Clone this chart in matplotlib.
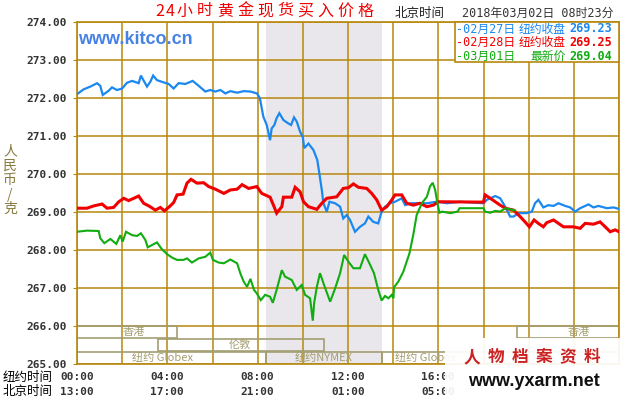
import matplotlib
matplotlib.use("Agg")
import matplotlib.pyplot as plt
from matplotlib.patches import Rectangle
from matplotlib.transforms import blended_transform_factory

plt.rcParams['font.family'] = ['DejaVu Sans', 'Noto Sans CJK SC']

# 纽约时间(小时), 价格
blue = [(0, 272.10), (0.3, 272.23), (0.59, 272.30), (0.89, 272.39), (1.03, 272.32), (1.14, 272.08),
        (1.40, 272.19), (1.55, 272.28), (1.77, 272.21), (2.0, 272.25), (2.21, 272.40), (2.44, 272.45),
        (2.73, 272.39), (2.83, 272.59), (2.95, 272.46), (3.10, 272.30), (3.25, 272.43), (3.37, 272.59),
        (3.54, 272.47), (3.84, 272.41), (4.06, 272.37), (4.28, 272.25), (4.50, 272.39), (4.80, 272.37),
        (5.12, 272.45), (5.39, 272.32), (5.68, 272.17), (5.90, 272.21), (6.13, 272.17), (6.35, 272.21),
        (6.57, 272.12), (6.79, 272.18), (7.09, 272.14), (7.38, 272.18), (7.68, 272.17), (7.97, 272.12),
        (8.10, 271.99), (8.25, 271.51), (8.40, 271.29), (8.55, 270.89), (8.62, 271.20), (8.74, 271.29),
        (8.84, 271.47), (8.96, 271.60), (9.14, 271.42), (9.36, 271.33), (9.48, 271.29), (9.61, 271.49),
        (9.73, 271.38), (9.88, 271.11), (10.0, 270.97), (10.06, 270.68), (10.25, 270.80), (10.47, 270.63),
        (10.64, 270.37), (10.73, 270.02), (10.84, 269.58), (10.91, 269.23), (11.06, 269.01), (11.18, 269.27),
        (11.43, 269.23), (11.65, 269.14), (11.79, 268.83), (11.94, 268.92), (12.09, 268.79), (12.31, 268.48),
        (12.53, 268.61), (12.75, 268.70), (12.90, 268.88), (13.12, 268.74), (13.34, 268.70), (13.49, 269.01),
        (13.64, 269.14), (13.86, 269.23), (14.08, 269.27), (14.38, 269.36), (14.53, 269.18), (14.75, 269.23),
        (15.12, 269.23), (15.49, 269.23), (15.93, 269.27), (16.38, 269.23), (16.96, 269.27), (18.0, 269.23),
        (18.15, 269.32), (18.52, 269.42), (18.74, 269.36), (18.96, 269.14), (19.18, 268.88), (19.33, 268.88),
        (19.55, 268.97), (19.92, 268.97), (20.14, 269.01), (20.28, 269.23), (20.43, 269.32), (20.65, 269.12),
        (20.87, 269.18), (21.10, 269.16), (21.32, 269.23), (21.62, 269.16), (21.84, 269.12), (22.06, 269.01),
        (22.28, 269.10), (22.65, 269.20), (22.87, 269.12), (23.09, 269.16), (23.46, 269.10), (23.76, 269.12),
        (24.0, 269.08)]

red = [(0, 269.10), (0.44, 269.10), (0.74, 269.16), (1.11, 269.21), (1.33, 269.10), (1.62, 269.12),
       (1.85, 269.27), (2.07, 269.36), (2.29, 269.30), (2.51, 269.36), (2.73, 269.42), (2.95, 269.23),
       (3.18, 269.16), (3.47, 269.05), (3.69, 269.12), (3.87, 269.03), (4.13, 269.16), (4.28, 269.25),
       (4.43, 269.45), (4.70, 269.47), (4.87, 269.76), (5.05, 269.86), (5.31, 269.76), (5.61, 269.77),
       (5.83, 269.67), (6.13, 269.60), (6.50, 269.49), (6.79, 269.58), (7.09, 269.60), (7.31, 269.72),
       (7.60, 269.62), (7.96, 269.67), (8.18, 269.49), (8.55, 269.39), (8.70, 269.18), (8.84, 268.97),
       (9.07, 269.14), (9.14, 269.39), (9.51, 269.39), (9.66, 269.65), (9.88, 269.53), (10.03, 269.27),
       (10.25, 269.14), (10.62, 269.07), (10.84, 269.23), (11.06, 269.36), (11.50, 269.40), (11.79, 269.62),
       (12.02, 269.64), (12.24, 269.74), (12.46, 269.65), (12.83, 269.62), (13.05, 269.49), (13.27, 269.32),
       (13.49, 269.05), (13.72, 269.14), (13.94, 269.32), (14.08, 269.45), (14.38, 269.45), (14.60, 269.23),
       (14.89, 269.18), (15.19, 269.23), (15.49, 269.14), (15.78, 269.18), (16.0, 269.27), (18.0, 269.26),
       (18.07, 269.45), (18.3, 269.36), (18.52, 269.27), (18.74, 269.18), (18.96, 269.10), (19.33, 269.05),
       (19.62, 268.88), (19.84, 268.74), (20.03, 268.61), (20.24, 268.79), (20.43, 268.70), (20.65, 268.61),
       (20.80, 268.72), (21.10, 268.79), (21.32, 268.70), (21.54, 268.61), (21.98, 268.61), (22.28, 268.57),
       (22.50, 268.70), (22.87, 268.68), (23.16, 268.74), (23.39, 268.61), (23.61, 268.48), (23.83, 268.53),
       (24.0, 268.48)]

green = [(0, 268.48), (0.44, 268.51), (0.96, 268.50), (1.03, 268.31), (1.21, 268.18), (1.48, 268.29),
         (1.74, 268.16), (1.92, 268.39), (2.02, 268.22), (2.17, 268.48), (2.44, 268.39), (2.66, 268.37),
         (2.83, 268.44), (3.03, 268.26), (3.13, 268.07), (3.32, 268.13), (3.54, 268.20), (3.76, 268.02),
         (3.99, 267.89), (4.21, 267.80), (4.43, 267.74), (4.72, 267.74), (4.87, 267.78), (5.09, 267.67),
         (5.39, 267.78), (5.68, 267.82), (5.90, 267.93), (6.02, 267.74), (6.27, 267.67), (6.50, 267.65),
         (6.79, 267.75), (7.09, 267.65), (7.23, 267.39), (7.38, 267.17), (7.53, 267.03), (7.68, 267.24),
         (7.84, 266.95), (7.96, 266.86), (8.14, 266.68), (8.33, 266.82), (8.55, 266.77), (8.67, 266.61),
         (8.84, 266.95), (9.07, 267.47), (9.21, 267.30), (9.51, 267.21), (9.73, 266.95), (9.95, 267.08),
         (10.10, 266.82), (10.32, 266.73), (10.44, 266.14), (10.50, 266.60), (10.62, 267.03), (10.76, 267.39),
         (10.94, 267.08), (11.21, 266.64), (11.43, 266.99), (11.65, 267.39), (11.83, 267.87), (12.02, 267.69),
         (12.24, 267.52), (12.53, 267.52), (12.75, 267.89), (12.98, 267.61), (13.15, 267.39), (13.34, 266.95),
         (13.49, 266.67), (13.64, 266.79), (13.79, 266.73), (13.94, 266.82), (14.01, 266.73), (14.04, 267.02),
         (14.23, 267.17), (14.45, 267.43), (14.72, 267.91), (14.89, 268.40), (15.04, 268.92), (15.27, 269.23),
         (15.49, 269.40), (15.63, 269.67), (15.75, 269.77), (15.86, 269.58), (15.96, 269.23), (16.05, 268.98),
         (16.16, 269.01), (16.53, 268.97), (16.85, 269.01), (16.94, 269.10), (18.0, 269.10), (18.07, 269.01),
         (18.3, 268.98), (18.52, 269.03), (18.74, 269.01), (18.96, 269.10), (19.18, 269.07), (19.40, 269.04)]

series_dates = ["-02月27日", "-02月28日", "-03月01日"]
series_kinds = ["纽约收盘", "纽约收盘", "最新价"]
series_last = ["269.23", "269.25", "269.04"]
series_colors = ["#1a88f0", "#f00000", "#10ac10"]

ny_labels = ["00:00", "04:00", "08:00", "12:00", "16:00"]
bj_labels = ["13:00", "17:00", "21:00", "01:00", "05:00"]
y_ticks = [265, 266, 267, 268, 269, 270, 271, 272, 273, 274]

# 交易时段: 名称, 开始, 结束, 行, 标签位置
markets = [("香港", 0, 4.43, 0, 2.5), ("香港", 19.5, 24, 0, 22.2), ("伦敦", 3.6, 10.94, 1, 7.2),
           ("纽约 Globex", 0, 8.37, 2, 3.8), ("纽约NYMEX", 8.37, 13.5, 2, 10.9),
           ("纽约 Globex", 13.5, 24, 2, 15.45)]
nymex_open, nymex_close = 8.37, 13.5

W, H = 630, 400
GOLD = "#b8880c"
KHAKI = "#a39e72"
CJK = 'Noto Sans CJK SC'
MONO = ['DejaVu Sans Mono', 'Noto Sans CJK SC']


def fx(px):
    return px / W


def fy(py):
    return 1 - py / H


def spaced(fig, x, y, s, full, half, **kw):
    # draw text char by char to get the wide letter spacing
    for ch in s:
        w = half if ord(ch) < 128 else full
        fig.text(fx(x + w / 2), fy(y), ch, ha='center', va='center', **kw)
        x += w


fig = plt.figure(figsize=(6.3, 4.0), dpi=100, facecolor='white')
ax = fig.add_axes([fx(77), fy(364), fx(619) - fx(77), (364 - 22) / H])

ax.axvspan(nymex_open, nymex_close, color='#e9e7eb', lw=0, zorder=0)

for data, c, lw in zip([blue, red, green], series_colors, [1.6, 2.2, 1.5]):
    h, p = zip(*data)
    ax.plot(h, p, color=c, lw=lw, zorder=3, solid_joinstyle='miter')

ax.set_xlim(0, 24)
ax.set_ylim(265, 274)
ax.set_xticks(range(0, 25, 2))
ax.set_xticklabels([])
ax.set_yticks(y_ticks)
ax.set_yticklabels(["%.2f" % v for v in y_ticks], family='DejaVu Sans Mono',
                   weight='bold', fontsize=8, color='#333333')
ax.tick_params(axis='x', length=0)
ax.tick_params(axis='y', length=3, color=GOLD, pad=4)
ax.grid(True, color=GOLD, lw=1.1, zorder=1)
ax.set_axisbelow(True)
for sp in ax.spines.values():
    sp.set_color(GOLD)
    sp.set_linewidth(1.2)

# market session boxes
row_lo = [265.68, 265.34, 265.0]
row_hi = [266.0, 265.66, 265.32]
for name, a, b, r, lx in markets:
    ax.add_patch(Rectangle((a, row_lo[r]), b - a, row_hi[r] - row_lo[r], fill=False,
                           ec=KHAKI, lw=1.2, zorder=2))
    ax.text(lx, (row_lo[r] + row_hi[r]) / 2, name, ha='center', va='center',
            fontsize=8, color=KHAKI, family=CJK, zorder=2)

# time labels under the axis
tr = blended_transform_factory(ax.transData, ax.transAxes)
for i, (ny, bj) in enumerate(zip(ny_labels, bj_labels)):
    for lab, yy in [(ny, 377), (bj, 392)]:
        ax.text(i * 4, -(yy - 364) / 342, lab, transform=tr, ha='center', va='center',
                family='DejaVu Sans Mono', weight='bold', fontsize=8, color='#333333')
fig.text(fx(3), fy(377), "纽约时间", ha='left', va='center', fontsize=9, family=CJK)
fig.text(fx(3), fy(392), "北京时间", ha='left', va='center', fontsize=9, family=CJK)

# y label, stacked
fig.text(fx(10), fy(180), "\n".join("人民币/克"), ha='center', va='center', fontsize=10,
         family=CJK, color='#857a3c', linespacing=1.05)

# titles
spaced(fig, 155, 11, "24小时黄金现货买入价格", 20, 10, fontsize=11.5, color='#f00000', family=CJK)
fig.text(fx(395), fy(13), "北京时间", ha='left', va='center', fontsize=9, family=CJK, color='#222222')
fig.text(fx(462), fy(13), "2018年03月02日 08时23分", ha='left', va='center', fontsize=8.5,
         family=MONO, color='#333333')
fig.text(fx(78), fy(40), "www.kitco.cn", ha='left', va='center', fontsize=13, weight='bold',
         family='Liberation Sans', color='#4682e6', zorder=5)

# legend box
fig.add_artist(Rectangle((fx(455), fy(62)), fx(619) - fx(455), (62 - 22) / H,
                         transform=fig.transFigure, fc='white', ec=GOLD, lw=1.2, zorder=4))
for i, (d, k, v, c) in enumerate(zip(series_dates, series_kinds, series_last, series_colors)):
    yy = 29 + 13.5 * i
    fig.text(fx(456), fy(yy), d, ha='left', va='center', fontsize=8.5, family=MONO, color=c, zorder=5)
    fig.text(fx(566), fy(yy), k, ha='right', va='center', fontsize=8.5, family=CJK, color=c, zorder=5)
    fig.text(fx(569), fy(yy), v, ha='left', va='center', fontsize=8.5, family='DejaVu Sans Mono',
             weight='bold', color=c, zorder=5)

# watermark block bottom right
fig.add_artist(Rectangle((fx(445), 0), 1 - fx(445), fy(338), transform=fig.transFigure,
                         fc='white', ec='none', alpha=0.93, zorder=6))
spaced(fig, 460, 357, "人物档案资料", 24, 12, fontsize=12, weight='bold', color='#cc2222',
       family=CJK, zorder=7)
fig.text(fx(534), fy(381), "www.yxarm.net", ha='center', va='center', fontsize=13, weight='bold',
         family='Liberation Sans', color='#111111', zorder=7)

fig.savefig("out.png", dpi=100, facecolor='white')
